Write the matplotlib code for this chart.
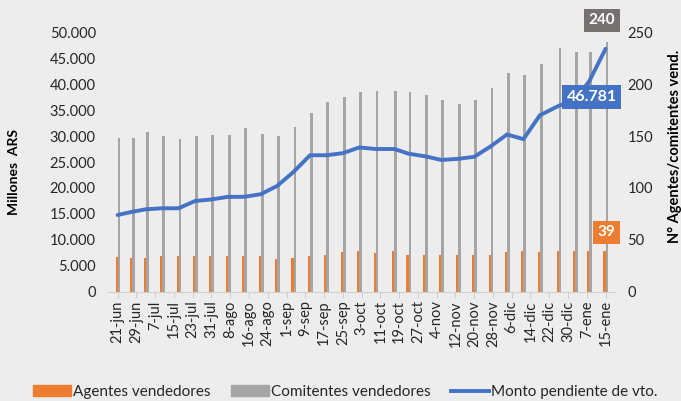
#!/usr/bin/env python3
"""Agentes / comitentes vendedores y monto pendiente de vencimiento."""
import matplotlib

matplotlib.use("Agg")
import matplotlib.dates as mdates
import matplotlib.pyplot as plt
import pandas as pd
from matplotlib.lines import Line2D
from matplotlib.patches import Patch

plt.rcParams["font.family"] = ["Lato", "DejaVu Sans"]

# Datos
fechas = [
    "2020-06-21", "2020-06-27", "2020-07-03", "2020-07-10", "2020-07-17",
    "2020-07-24", "2020-07-31", "2020-08-07", "2020-08-14", "2020-08-21",
    "2020-08-28", "2020-09-04", "2020-09-11", "2020-09-18", "2020-09-25",
    "2020-10-02", "2020-10-09", "2020-10-17", "2020-10-23", "2020-10-30",
    "2020-11-06", "2020-11-13", "2020-11-20", "2020-11-27", "2020-12-04",
    "2020-12-11", "2020-12-18", "2020-12-26", "2021-01-02", "2021-01-08",
    "2021-01-15",
]
agentes = [34, 33, 33, 35, 35, 35, 35, 35, 35, 35, 32, 33, 35, 36, 38, 39,
           37, 39, 36, 36, 36, 36, 36, 36, 38, 39, 38, 39, 39, 39, 39]
comitentes = [148, 148, 154, 150, 147, 150, 151, 151, 158, 152, 150, 159, 172,
              183, 188, 192, 193, 193, 192, 189, 185, 181, 185, 196, 211, 209,
              219, 235, 231, 231, 240]
monto = [14800, 15400, 15900, 16100, 16100, 17500, 17800, 18300, 18300, 18800,
         20400, 23100, 26300, 26300, 26700, 27800, 27500, 27500, 26600, 26100,
         25400, 25600, 26000, 28000, 30300, 29400, 34000, 35800, 37000, 40500,
         46781]
tick_labels = ["21-jun", "29-jun", "7-jul", "15-jul", "23-jul", "31-jul",
               "8-ago", "16-ago", "24-ago", "1-sep", "9-sep", "17-sep",
               "25-sep", "3-oct", "11-oct", "19-oct", "27-oct", "4-nov",
               "12-nov", "20-nov", "28-nov", "6-dic", "14-dic", "22-dic",
               "30-dic", "7-ene", "15-ene"]

ORANGE = "#ED7D31"
GRAY = "#A5A5A5"
BLUE = "#4472C4"
BG = "#EDEDED"
TXT = "#262626"

x = mdates.date2num(pd.to_datetime(fechas))
ticks = mdates.date2num(pd.date_range(fechas[0], periods=len(tick_labels), freq="8D"))

fig = plt.figure(figsize=(6.81, 4.01), dpi=100, facecolor=BG)
ax = fig.add_axes([0.159, 0.272, 0.744, 0.648])
ax.set_facecolor("none")
ax2 = ax.twinx()

# Barras (eje derecho)
ax.bar(x - 0.45, agentes, width=0.9, color=ORANGE)
ax.bar(x + 0.6, comitentes, width=1.2, color=GRAY)
ax.set_ylim(0, 250)
ax.set_yticks(range(0, 251, 50))
ax.yaxis.tick_right()
ax.yaxis.set_label_position("right")
ax.set_ylabel("N° Agentes/comitentes vend.", fontsize=10.5, fontweight="bold",
              color="black")
ax.yaxis.set_label_coords(1.105, 0.56)

# Linea (eje izquierdo)
ax2.plot(x, monto, color=BLUE, lw=2.8, solid_capstyle="round")
ax2.set_ylim(0, 50000)
ax2.set_yticks(range(0, 50001, 5000))
ax2.yaxis.tick_left()
ax2.yaxis.set_label_position("left")
ax2.yaxis.set_major_formatter(
    matplotlib.ticker.FuncFormatter(lambda v, p: f"{v:,.0f}".replace(",", ".")))
ax2.set_ylabel("Millones  ARS", fontsize=10, fontweight="bold", color="black")
ax2.yaxis.set_label_coords(-0.175, 0.46)

ax.set_xlim(x[0] - 4, x[-1] + 4)
ax.set_xticks(ticks)
ax.set_xticklabels(tick_labels, rotation=90, fontsize=10.5, color=TXT)

for a in (ax, ax2):
    for s in a.spines.values():
        s.set_visible(False)
    a.tick_params(axis="y", length=0, labelsize=10.5, labelcolor=TXT, pad=9)
ax.spines["bottom"].set_visible(True)
ax.spines["bottom"].set_color("#D0D0D0")
ax.tick_params(axis="x", length=4, color="#D0D0D0", pad=2)

# Etiquetas de datos
box = dict(boxstyle="square,pad=0.3", ec="none")
ax.annotate(f"{comitentes[-1]}", (x[-1] + 0.6, comitentes[-1]),
            xytext=(-5, 22), textcoords="offset pixels", ha="center",
            va="center", color="white", fontsize=11, fontweight="bold",
            bbox=dict(box, fc="#767171"))
ax.annotate(f"{agentes[-1]}", (x[-1] - 0.45, agentes[-1]),
            xytext=(2, 19), textcoords="offset pixels", ha="center",
            va="center", color="white", fontsize=11, fontweight="bold",
            bbox=dict(box, fc=ORANGE))
ax2.annotate(f"{monto[-1]:,}".replace(",", "."), (x[-1], monto[-1]),
             xytext=(-14, -48), textcoords="offset pixels", ha="center",
             va="center", color="white", fontsize=11.5, fontweight="bold",
             bbox=dict(box, fc=BLUE))

# Leyenda
handles = [Patch(color=ORANGE, label="Agentes vendedores"),
           Patch(color=GRAY, label="Comitentes vendedores"),
           Line2D([], [], color=BLUE, lw=2.8, label="Monto pendiente de vto.")]
fig.legend(handles=handles, loc="center", bbox_to_anchor=(0.507, 0.022), ncol=3,
           frameon=False, fontsize=11, handlelength=2.5, handleheight=0.7,
           handletextpad=0.15, columnspacing=1.3, labelcolor=TXT)

fig.savefig("out.png", dpi=100, facecolor=BG)
